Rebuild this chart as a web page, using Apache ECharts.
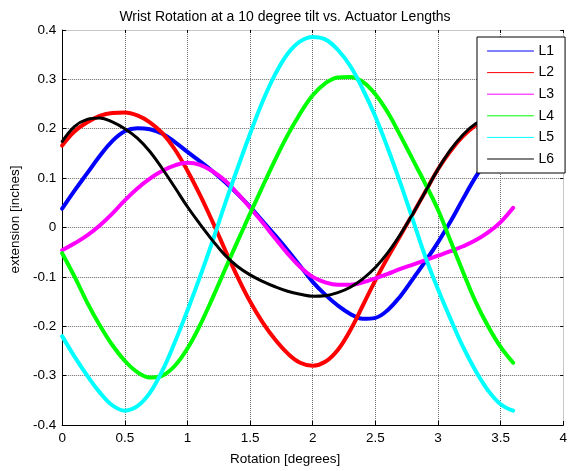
<!DOCTYPE html>
<html>
<head>
<meta charset="utf-8">
<script src="https://cdn.jsdelivr.net/npm/echarts@6/dist/echarts.min.js"></script>
<style>
  html, body { margin: 0; padding: 0; background: #fff; }
  #chart { width: 570px; height: 471px; }
</style>
</head>
<body>
<div id="chart"></div>
<script>
// Rotation angle samples [degrees]
const rotation = [0, 0.1, 0.2, 0.3, 0.4, 0.5, 0.6, 0.7, 0.8, 0.9, 1.0, 1.1, 1.2, 1.3, 1.4, 1.5, 1.6, 1.7, 1.8, 1.9,
  2.0, 2.1, 2.2, 2.3, 2.4, 2.5, 2.6, 2.7, 2.8, 2.9, 3.0, 3.1, 3.2, 3.3, 3.4, 3.5, 3.6];

// Actuator extensions [inches]
const L1 = [0.038, 0.075, 0.110, 0.145, 0.175, 0.195, 0.201, 0.199, 0.190, 0.173, 0.153, 0.134, 0.114, 0.092, 0.068, 0.042, 0.013, -0.016, -0.046, -0.078,
  -0.110, -0.136, -0.158, -0.175, -0.185, -0.183, -0.167, -0.139, -0.104, -0.068, -0.030, 0.012, 0.058, 0.102, 0.140, 0.172, 0.195];
const L2 = [0.166, 0.195, 0.213, 0.226, 0.232, 0.233, 0.227, 0.213, 0.191, 0.158, 0.115, 0.066, 0.012, -0.045, -0.100, -0.150, -0.192, -0.227, -0.255, -0.274,
  -0.280, -0.272, -0.248, -0.208, -0.158, -0.107, -0.060, -0.016, 0.028, 0.073, 0.118, 0.155, 0.185, 0.207, 0.222, 0.230, 0.232];
const L3 = [-0.046, -0.032, -0.016, 0.004, 0.028, 0.055, 0.079, 0.099, 0.115, 0.126, 0.131, 0.127, 0.114, 0.095, 0.069, 0.040, 0.010, -0.022, -0.053, -0.080,
  -0.100, -0.111, -0.116, -0.116, -0.111, -0.103, -0.094, -0.084, -0.075, -0.066, -0.057, -0.048, -0.038, -0.026, -0.010, 0.011, 0.040];
const L4 = [-0.052, -0.100, -0.152, -0.198, -0.238, -0.270, -0.293, -0.304, -0.300, -0.280, -0.245, -0.198, -0.143, -0.085, -0.028, 0.028, 0.083, 0.137, 0.187, 0.231,
  0.268, 0.292, 0.304, 0.305, 0.295, 0.270, 0.233, 0.186, 0.137, 0.088, 0.036, -0.027, -0.090, -0.150, -0.200, -0.242, -0.274];
const L5 = [-0.220, -0.262, -0.300, -0.334, -0.360, -0.371, -0.362, -0.335, -0.290, -0.232, -0.168, -0.100, -0.028, 0.048, 0.120, 0.190, 0.255, 0.310, 0.352, 0.377,
  0.386, 0.381, 0.360, 0.327, 0.280, 0.225, 0.160, 0.090, 0.015, -0.060, -0.125, -0.185, -0.242, -0.290, -0.330, -0.358, -0.371];
const L6 = [0.174, 0.205, 0.219, 0.222, 0.214, 0.200, 0.181, 0.154, 0.119, 0.081, 0.042, 0.007, -0.026, -0.056, -0.079, -0.096, -0.109, -0.120, -0.129, -0.135,
  -0.139, -0.138, -0.132, -0.121, -0.104, -0.081, -0.051, -0.014, 0.028, 0.073, 0.118, 0.157, 0.188, 0.210, 0.222, 0.225, 0.222];

const seriesNames = ['L1', 'L2', 'L3', 'L4', 'L5', 'L6'];
const seriesValues = [L1, L2, L3, L4, L5, L6];
const seriesColors = ['#0000ff', '#ff0000', '#ff00ff', '#00ff00', '#00ffff', '#000000'];
const seriesWidths = [4, 4, 4, 4, 4, 3];

const xTicks = { min: 0, max: 4, interval: 0.5 };
const yTicks = { min: -0.4, max: 0.4, interval: 0.1 };

const font = '"Liberation Sans", Arial, Helvetica, sans-serif';

const chart = echarts.init(document.getElementById('chart'), null, { renderer: 'canvas' });

const series = seriesNames.map((name, i) => ({
  name: name,
  type: 'line',
  data: rotation.map((x, j) => [x, seriesValues[i][j]]),
  symbol: 'none',
  smooth: 0.4,
  clip: true,
  z: 2 + i,
  lineStyle: { color: seriesColors[i], width: seriesWidths[i], cap: 'round', join: 'round' },
  itemStyle: { color: seriesColors[i] },
  emphasis: { disabled: true },
  animation: false
}));

const gridLine = { show: true, lineStyle: { color: '#6a6a6a', type: [1, 1], width: 1 } };

chart.setOption({
  animation: false,
  backgroundColor: '#ffffff',
  title: {
    text: 'Wrist Rotation at a 10 degree tilt vs. Actuator Lengths',
    left: 'center',
    top: 5,
    textStyle: { fontFamily: font, fontSize: 14, fontWeight: 'normal', color: '#000' }
  },
  legend: {
    data: seriesNames,
    orient: 'vertical',
    left: 477,
    top: 37,
    itemWidth: 46,
    itemHeight: 14,
    itemGap: 7.6,
    padding: [7, 11, 7, 10],
    backgroundColor: '#ffffff',
    borderColor: '#000000',
    borderWidth: 1,
    z: 20,
    itemStyle: { opacity: 0, borderWidth: 0 },
    lineStyle: { width: 1 },
    textStyle: { fontFamily: font, fontSize: 14, color: '#000' },
    selectedMode: false
  },
  grid: { left: 62, right: 2, top: 30, bottom: 43, containLabel: false },
  xAxis: [
    {
      type: 'value',
      min: xTicks.min, max: xTicks.max, interval: xTicks.interval,
      position: 'bottom',
      name: 'Rotation [degrees]',
      nameLocation: 'middle',
      nameGap: 27,
      nameTextStyle: { fontFamily: font, fontSize: 13.5, color: '#000', padding: [0, 55, 0, 0] },
      axisLine: { show: true, onZero: false, lineStyle: { color: '#000', width: 1 } },
      axisTick: { show: true, inside: true, length: 4, lineStyle: { color: '#000' } },
      axisLabel: { fontFamily: font, fontSize: 13.5, color: '#000', margin: 6 },
      splitLine: gridLine
    },
    {
      type: 'value',
      min: xTicks.min, max: xTicks.max, interval: xTicks.interval,
      position: 'top',
      axisLine: { show: true, onZero: false, lineStyle: { color: '#c8c8c8', width: 1 } },
      axisTick: { show: true, inside: true, length: 3, lineStyle: { color: '#000' } },
      axisLabel: { show: false },
      splitLine: { show: false }
    }
  ],
  yAxis: [
    {
      type: 'value',
      min: yTicks.min, max: yTicks.max, interval: yTicks.interval,
      position: 'left',
      name: 'extension [inches]',
      nameLocation: 'middle',
      nameGap: 33,
      nameRotate: 90,
      nameTextStyle: { fontFamily: font, fontSize: 13.5, color: '#000', padding: [0, 0, 0, 16] },
      axisLine: { show: true, onZero: false, lineStyle: { color: '#000', width: 1 } },
      axisTick: { show: true, inside: true, length: 4, lineStyle: { color: '#000' } },
      axisLabel: { fontFamily: font, fontSize: 13.5, color: '#000', margin: 6 },
      splitLine: gridLine
    },
    {
      type: 'value',
      min: yTicks.min, max: yTicks.max, interval: yTicks.interval,
      position: 'right',
      axisLine: { show: true, onZero: false, lineStyle: { color: '#c8c8c8', width: 1 } },
      axisTick: { show: true, inside: true, length: 3, lineStyle: { color: '#000' } },
      axisLabel: { show: false },
      splitLine: { show: false }
    }
  ],
  series: series
});
</script>
</body>
</html>
